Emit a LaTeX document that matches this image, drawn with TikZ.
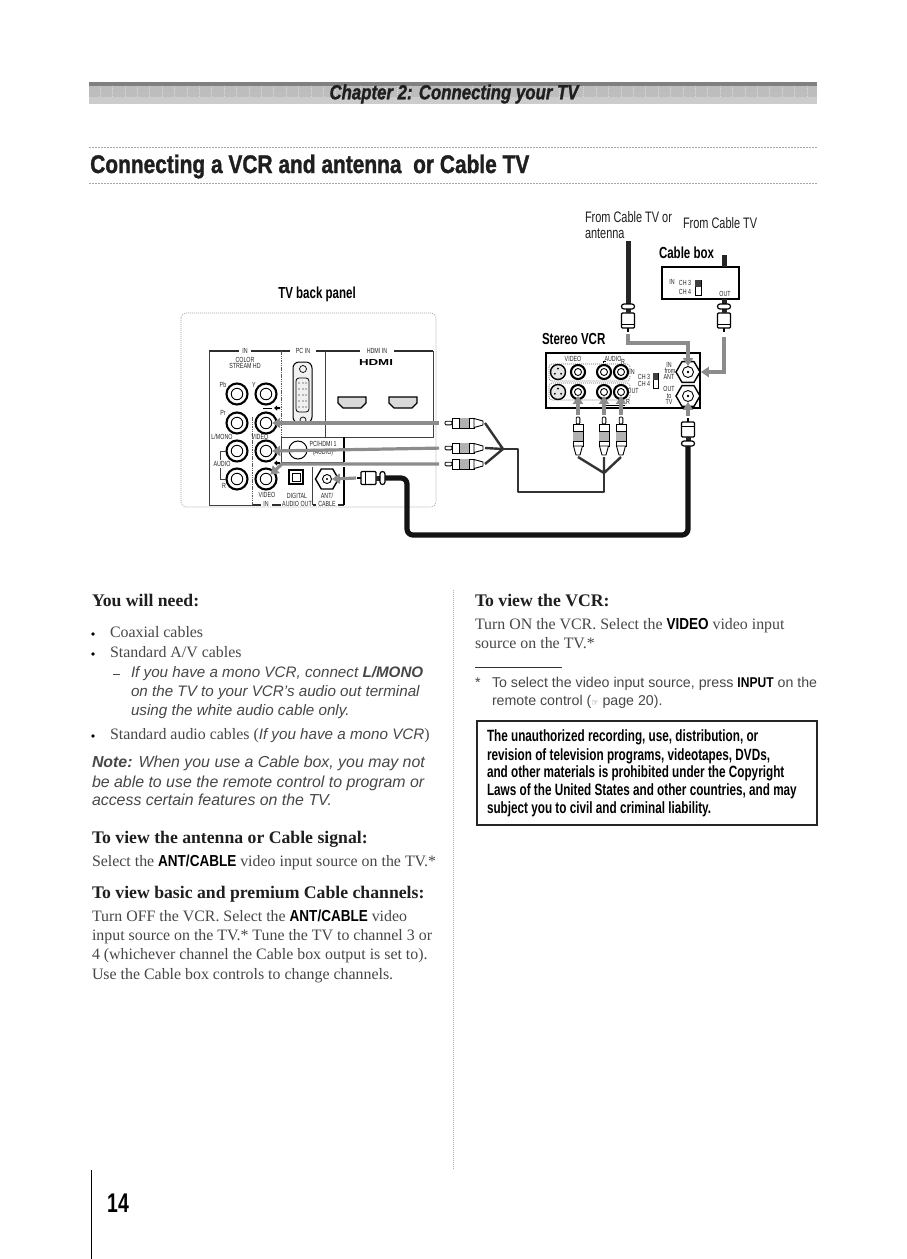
\documentclass[tikz,border=0pt]{standalone}
\usepackage{fontspec}
\usepackage{graphicx}
\usetikzlibrary{arrows.meta,shapes.geometric}
\setmainfont{Liberation Serif}
\setsansfont{Liberation Sans}
\newfontfamily\cond[FakeStretch=0.72]{Liberation Sans}
\newfontfamily\condt[FakeStretch=0.82,FakeBold=1.2]{Liberation Sans Bold}
\newfontfamily\condti[FakeStretch=0.82,FakeBold=1.2]{Liberation Sans Bold Italic}
\newfontfamily\condb[FakeStretch=0.85]{Liberation Sans}
\newfontfamily\dejavu{DejaVu Sans}
\definecolor{bodyc}{gray}{0.28}
\definecolor{headc}{gray}{0.12}
\definecolor{arrowc}{gray}{0.55}
\newcommand\fsz[1]{\fontsize{#1}{#1}\selectfont}
\newcommand\inb[1]{{\condb\bfseries\color{black}#1}}
\tikzset{
  x=1pt,y=-1pt,
  txt/.style={anchor=base west,inner sep=0pt,outer sep=0pt,text=bodyc,font=\fsz{15.9}},
  sanstxt/.style={anchor=base west,inner sep=0pt,outer sep=0pt,text=bodyc,font=\sffamily\itshape\fsz{15.2}},
  notetxt/.style={anchor=base west,inner sep=0pt,outer sep=0pt,text=bodyc,font=\sffamily\itshape\fsz{15.9}},
  foottxt/.style={anchor=base west,inner sep=0pt,outer sep=0pt,text=bodyc,font=\sffamily\fsz{14.2}},
  subhead/.style={anchor=base west,inner sep=0pt,outer sep=0pt,text=headc,font=\bfseries\fsz{17.7}},
  boxtxt/.style={anchor=base west,inner sep=0pt,outer sep=0pt,text=black,font=\cond\bfseries\fsz{16.3}},
  lab/.style={inner sep=0pt,outer sep=0pt,text=black,font=\cond\bfseries\fsz{16}},
  captxt/.style={anchor=base west,inner sep=0pt,outer sep=0pt,text=headc,font=\cond\fsz{15.2}},
  tinylab/.style={inner sep=0pt,outer sep=0pt,text=black!85,font=\cond\fsz{7.4},align=center},
  dashrule/.style={gray!70,line width=0.6,dash pattern=on 1.5 off 1.5},
  panelrule/.style={black!75,line width=0.9},
  thinrule/.style={black!65,line width=0.7,dash pattern=on 1.5 off 0.8},
  panelhead/.style={gray!35!black,line width=2.6},
  jackouter/.style={circle,draw=black,line width=2.1,fill=white,minimum size=#1,inner sep=0pt},
  jackcore/.style={circle,draw=black,line width=0.9,fill=white,minimum size=#1,inner sep=0pt},
  hexjack/.style={regular polygon,regular polygon sides=6,draw=black,line width=1.4,fill=white,minimum size=24,inner sep=0pt},
  sig/.style={arrowc,line width=3.2,-{Triangle[length=8,width=10]}},
  blackcable/.style={gray!15!black,line width=5.2,rounded corners=6},
  avwire/.style={gray!40!black,line width=2.4,line join=round},
  plugline/.style={black,line width=0.9,fill=white},
}
\newcommand\mkjack[4]{%
  \node[jackouter=#4] (#1) at (#2,#3) {};
  \node[jackcore=11.5] (#1c) at (#2,#3) {};}
\newcommand\mkhex[3]{%
  \node[hexjack] (#1) at (#2,#3) {};
  \node[jackcore=11] (#1c) at (#2,#3) {};
  \fill (#2,#3) circle (1.3);}
\newcommand\mkrca[4]{%
  \begin{scope}[shift={(#2,#3)},rotate=#4]
    \coordinate (#1tip) at (0,0);
    \coordinate (#1tail) at (40,0);
    \draw[plugline,rounded corners=1] (0,-1.8) -- (7,-1.8) -- (7,1.8) -- (0,1.8) -- cycle;
    \draw[plugline] (7,-5) rectangle (29,5);
    \fill[gray!60] (14,-5) rectangle (24,5);
    \draw[black,line width=0.6] (14,-5) -- (14,5) (24,-5) -- (24,5);
    \draw[plugline] (29,-4.5) -- (38,-2) -- (38,2) -- (29,4.5) -- cycle;
  \end{scope}}
\newcommand\mkf[4]{%
  \begin{scope}[shift={(#2,#3)},rotate=#4]
    \coordinate (#1tip) at (0,0);
    \coordinate (#1tail) at (28,0);
    \draw[black,line width=1.6] (0,0) -- (4,0);
    \draw[plugline,line width=1.2,rounded corners=1] (4,-6.5) rectangle (19,6.5);
    \draw[black,line width=0.7] (8,-6.5) -- (8,6.5);
    \fill[gray!30!black] (19,-2.5) rectangle (23,2.5);
    \draw[plugline,line width=1.2,rounded corners=2.5] (23,-6.5) rectangle (28,6.5);
  \end{scope}}
\begin{document}
\begin{tikzpicture}
\path[use as bounding box,fill=white] (0,0) rectangle (907,1259);

% chapter band
\fill[black!26] (89,86) rectangle (817,97);
\fill[black!50] (89,81.5) rectangle (817,86);
\fill[black!20] (89,97) rectangle (817,104);
\foreach \tx in {100,112.4,...,817} \draw[black!14,line width=0.5,dash pattern=on 1 off 1] (\tx,86) -- (\tx,97);
\node[inner sep=0pt,text=headc,font=\condti\fsz{20.5}] (chapter) at (454,94) {Chapter 2: Connecting your TV};
\draw[dashrule] (89,147) -- (818,147);
\draw[dashrule] (89,183) -- (818,183);
\node[anchor=base west,inner sep=0pt,text=headc,font=\condt\fsz{25.5}] (title) at (90,173) {Connecting a VCR and antenna\ \ or Cable TV};

% top labels
\node[lab] (tvlab) at (317,294) {TV back panel};
\node[captxt] (from1a) at (585,222) {From Cable TV or};
\node[captxt] (from1b) at (585,238) {antenna};
\node[captxt] (from2) at (683,228) {From Cable TV};
\node[lab,anchor=base west] (cablelab) at (659,258) {Cable box};
\node[lab,anchor=base west] (vcrlab) at (542,344) {Stereo VCR};

% TV panel
\draw[gray!75,line width=0.6,dash pattern=on 1 off 1,rounded corners=5] (181,313) rectangle (436,507);
\draw[panelhead] (209,351) -- (239,351) (251,351) -- (290,351) (316,351) -- (360,351) (394,351) -- (433,351);
\draw[panelhead] (253,505) -- (261,505) (272,505) -- (281,505) (313,505) -- (316,505) (338,505) -- (344,505);
\draw[panelrule] (209,351) -- (209,505) -- (253,505);
\draw[thinrule] (281,351) -- (281,437);
\draw[panelrule] (281,437) -- (433,437) -- (433,351);
\draw[panelrule] (325,351) -- (325,437);
\draw[panelrule] (281,437) -- (281,462) -- (344,462);
\draw[black,line width=2.4] (344,437) -- (344,462) (344,467) -- (344,505);
\draw[panelrule] (312,467) -- (312,505);
\draw[thinrule] (252,417) -- (252,505);
\node[tinylab] (inlab) at (245,351) {IN};
\node[tinylab] (pclab) at (303,351) {PC IN};
\node[tinylab] (hdmilab) at (377,351) {HDMI IN};
\node[tinylab] (colorlab) at (245,363) {COLOR\\[-1.5pt]STREAM HD};
\node[inner sep=0pt,font=\sffamily\bfseries\fsz{9.5}] (hdmilogo) at (376,362) {\resizebox{34pt}{6pt}{HDMI}};

\mkjack{jpb}{237}{394}{21}
\mkjack{jy}{266}{394}{21}
\mkjack{jpr}{237}{423}{21}
\mkjack{jcomp}{266}{423}{21}
\mkjack{jl}{237}{451}{21}
\mkjack{jvid}{266}{451}{21}
\mkjack{jr}{237}{479}{21}
\mkjack{jrr}{266}{479}{21}
\node[tinylab] at (223,385) {Pb};
\node[tinylab] at (254,385) {Y};
\node[tinylab] at (223,413) {Pr};
\node[tinylab] at (222,437) {L/MONO};
\node[tinylab] at (260,437) {VIDEO};
\draw[panelrule,line width=0.7] (226,451) -- (220,451) -- (220,460) (220,468) -- (220,479) -- (226,479);
\node[tinylab] at (222,464) {AUDIO};
\node[tinylab] at (224,486) {R};
\node[tinylab] at (267,495) {VIDEO};
\node[tinylab] at (266,504) {IN};
\node[tinylab] at (297,496) {DIGITAL};
\node[tinylab] at (297,504) {AUDIO OUT};
\node[tinylab] at (327,496) {ANT/};
\node[tinylab] at (327,504) {CABLE};
\draw[black,line width=0.8] (263,408) -- (272,408);
\fill (274,408) -- (277,405.5) -- (277,407) -- (280,407) -- (280,409) -- (277,409) -- (277,410.5) -- cycle;
\fill (274,463) -- (277,460.5) -- (277,462) -- (280,462) -- (280,464) -- (277,464) -- (277,465.5) -- cycle;

% VGA
\draw[black,line width=1,fill=gray!12,rounded corners=6] (293,362) rectangle (312,423);
\draw[black,line width=0.7] (303,369) circle (3.5) (303,420) circle (3);
\draw[black,line width=0.8,rounded corners=3] (296,378) rectangle (309,412);
\foreach \px in {299,303,306} \foreach \py in {383,389,395,401,407} \fill (\px,\py) circle (0.7);
% HDMI ports
\foreach \hx/\hn in {352/a,403/b}{
  \draw[black,line width=1.1,fill=gray!30] (\hx-14,397) -- (\hx+14,397) -- (\hx+14,403) -- (\hx+9,408) -- (\hx-9,408) -- (\hx-14,403) -- cycle;
}
% PC audio
\draw[black,line width=1] (298,450) circle (9);
\node[tinylab] at (323,444) {PC/HDMI 1};
\node[tinylab] at (323,453) {(AUDIO)};
% digital + ant
\draw[black,line width=1.2] (289,470) rectangle (303,484);
\draw[black,line width=0.7] (292,473) rectangle (300,481);
\node[hexjack,minimum size=23] (jant) at (327,479) {};
\node[jackcore=9] (jantc) at (327,479) {};
\fill (327,479) circle (1.2);

% VCR
\draw[black,line width=1.3] (546,353) rectangle (700,408);
\draw[gray!80!black,line width=0.6,dash pattern=on 1 off 1,rounded corners=3] (549,364) rectangle (630,381);
\draw[gray!80!black,line width=0.6,dash pattern=on 1 off 1,rounded corners=3] (549,383) rectangle (630,400);
\node[tinylab] at (573,359) {VIDEO};
\node[tinylab] at (613,359) {AUDIO};
\draw[black,line width=0.5] (603,363) -- (603,361) -- (606,361);
\node[tinylab] at (623,362) {R};
\node[tinylab,fill=white,inner sep=0.5pt] at (632,372) {IN};
\node[tinylab,fill=white,inner sep=0.5pt] at (633,391) {OUT};
\draw[black,line width=0.5] (605,405) -- (625,405);
\node[tinylab] at (628,402) {R};
\node[tinylab] at (644,377) {CH 3};
\node[tinylab] at (644,384) {CH 4};
\draw[black,line width=0.7] (653,373) rectangle (658,388);
\fill[gray!50!black] (653,373) rectangle (658,380);
\node[tinylab] at (669,365) {IN};
\node[tinylab] at (670,371) {from};
\node[tinylab] at (669,377) {ANT};
\node[tinylab] at (669,389) {OUT};
\node[tinylab] at (669,396) {to};
\node[tinylab] at (669,402) {TV};
\foreach \sx/\sy in {558/372,558/392}{
  \draw[black,line width=1.4,fill=gray!20] (\sx,\sy) circle (7.5);
  \foreach \a in {30,150,270} \fill (\sx,\sy) ++(\a:3.5) circle (1);
}
\foreach \n/\jx/\jy in {va/578/372,vb/604/372,vc/621/372}{
  \node[jackouter=14] (\n) at (\jx,\jy) {};
  \node[jackcore=7] (\n c) at (\jx,\jy) {};
}
\foreach \n/\jx/\jy in {vd/578/392,ve/604/392,vf/621/392}{
  \node[jackouter=14] (\n) at (\jx,\jy) {};
  \node[jackcore=7] (\n c) at (\jx,\jy) {};
}
\mkhex{vin}{688}{372}
\mkhex{vout}{688}{396}

% cable box
\draw[black,line width=1.3] (662,267) rectangle (739,299);
\node[tinylab] at (672,282) {IN};
\node[tinylab] at (685,283) {CH 3};
\node[tinylab] at (685,292) {CH 4};
\draw[black,line width=0.7] (695,280) rectangle (701,295);
\fill[gray!50!black] (695,280) rectangle (701,287);
\node[tinylab] at (725,294) {OUT};
\coordinate (boxtop) at (724,267);
\coordinate (boxin) at (724,255);
\coordinate (boxout) at (724,299);
\draw[gray!30!black,line width=5] (boxin) -- (boxtop);

% cables and plugs
\coordinate (antsrc) at (628,241);
\coordinate (cbend) at (407,478);
\coordinate (cbot) at (407,535);
\coordinate (crt) at (688,535);
\draw[gray!30!black,line width=5] (antsrc) -- (628,304);
\draw[gray!30!black,line width=5] (boxout) -- (724,304);
\mkf{fa}{628}{332}{90}
\mkf{fb}{724}{332}{90}
\mkf{fc}{688}{418}{-90}
\mkf{fd}{357}{478}{0}
\draw[blackcable] (fdtail) -- (cbend) -- (cbot) -- (crt) -- (fctail);

% AV wires
\coordinate (lj) at (503,449);
\coordinate (wa) at (518,449);
\coordinate (wb) at (518,492);
\coordinate (wc) at (604,492);
\coordinate (rj) at (604,473);
\mkrca{la}{445}{423}{0}
\mkrca{lb}{445}{448}{0}
\mkrca{lc}{445}{464}{0}
\mkrca{ra}{578}{417}{-90}
\mkrca{rb}{604}{417}{-90}
\mkrca{rc}{621}{417}{-90}
\draw[avwire] (latail) -- (lj) (lbtail) -- (lj) (lctail) -- (lj);
\draw[avwire] (lj) -- (wa) -- (wb) -- (wc) -- (rj);
\draw[avwire] (ratail) -- (rj) (rbtail) -- (rj) (rctail) -- (rj);

% signal arrows
\draw[sig,shorten <=6] (latip) -- (jcompc.east);
\draw[sig,shorten <=6] (lbtip) -- (jvidc.east);
\coordinate (cturn) at (282,464);
\draw[sig,shorten <=6] (lctip) -- (cturn) -- (jrrc.north east);
\draw[sig,shorten <=1] (fdtip) -- (jantc.east);
\draw[sig,shorten <=2] (ratip) -- (vdc.south);
\draw[sig,shorten <=2] (rbtip) -- (vec.south);
\draw[sig,shorten <=2] (rctip) -- (vfc.south);
\draw[sig,shorten <=2] (fctip) -- (voutc.south);
\coordinate (fa1) at (628,343);
\coordinate (fa2) at (688,343);
\draw[sig,shorten <=2] (fatip) -- (fa1) -- (fa2) -- (vinc.north);
\coordinate (fb1) at (724,372);
\draw[sig,shorten <=5] (fbtip) -- (fb1) -- (vin.east);

% column rule
\draw[gray!60,line width=0.5,dash pattern=on 1 off 1] (453,590) -- (453,1170);

% left column
\node[subhead] at (92,606) {You will need:};
\foreach \by in {634,654,736} \fill[black] (93,\by) circle (1.9);
\node[txt] at (110,637) {Coaxial cables};
\node[txt] at (110,657) {Standard A/V cables};
\draw[gray!60!black,line width=0.8] (113,674) -- (120,674);
\node[sanstxt] at (131,677) {If you have a mono VCR, connect \textbf{L/MONO}};
\node[sanstxt] at (131,696) {on the TV to your VCR's audio out terminal};
\node[sanstxt] at (131,715) {using the white audio cable only.};
\node[txt] at (110,739) {Standard audio cables ({\sffamily\itshape\fsz{15.2}If you have a mono VCR})};
\node[notetxt] at (92,767) {\textbf{Note:} When you use a Cable box, you may not};
\node[notetxt] at (92,787) {be able to use the remote control to program or};
\node[notetxt] at (92,805) {access certain features on the TV.};
\node[subhead] at (92,843) {To view the antenna or Cable signal:};
\node[txt] at (92,866) {Select the \inb{ANT/CABLE} video input source on the TV.*};
\node[subhead] at (92,898) {To view basic and premium Cable channels:};
\node[txt] at (92,921) {Turn OFF the VCR. Select the \inb{ANT/CABLE} video};
\node[txt] at (92,940) {input source on the TV.* Tune the TV to channel 3 or};
\node[txt] at (92,959) {4 (whichever channel the Cable box output is set to).};
\node[txt] at (92,979) {Use the Cable box controls to change channels.};

% right column
\node[subhead] at (475,606) {To view the VCR:};
\node[txt] at (475,629) {Turn ON the VCR. Select the \inb{VIDEO} video input};
\node[txt] at (475,648) {source on the TV.*};
\draw[black!80,line width=0.7] (475,667) -- (562,667);
\node[foottxt] at (475,687) {*};
\node[foottxt] at (492,687) {To select the video input source, press \inb{INPUT} on the};
\node[foottxt] at (492,705) {remote control ({\dejavu\fsz{8}☞} page 20).};
\node[draw=gray!30!black,line width=2,fill=white,minimum width=340,minimum height=104,inner sep=0pt,anchor=north west] (notice) at (476,720) {};
\node[boxtxt] at (487,741) {The unauthorized recording, use, distribution, or};
\node[boxtxt] at (487,760) {revision of television programs, videotapes, DVDs,};
\node[boxtxt] at (487,777) {and other materials is prohibited under the Copyright};
\node[boxtxt] at (487,795) {Laws of the United States and other countries, and may};
\node[boxtxt] at (487,813) {subject you to civil and criminal liability.};

% page number
\draw[black,line width=1] (91,1170) -- (91,1259);
\node[anchor=base west,inner sep=0pt,text=black,font=\cond\bfseries\fsz{27}] (pagenum) at (107,1212) {14};
\end{tikzpicture}
\end{document}
